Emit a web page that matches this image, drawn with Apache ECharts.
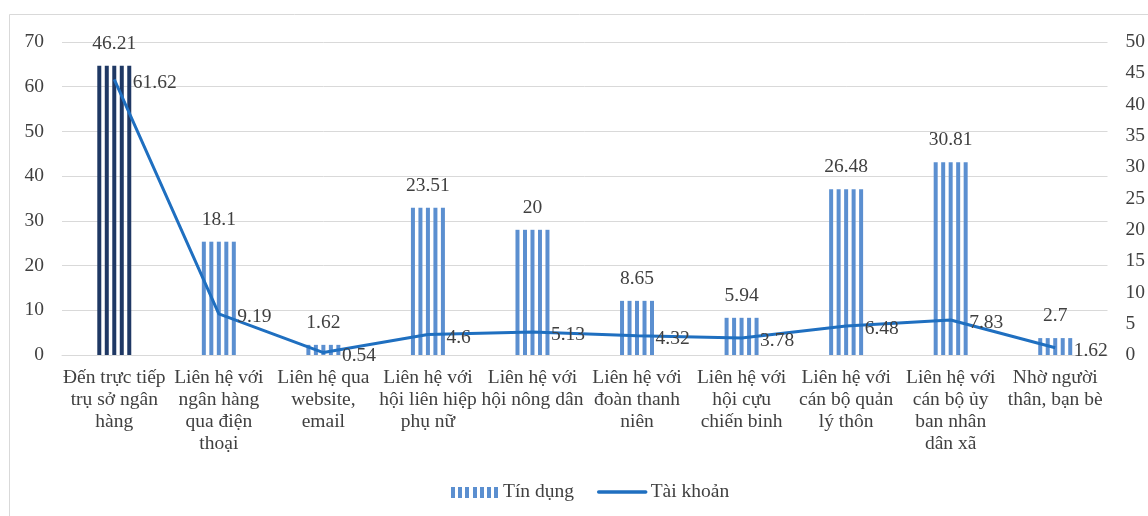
<!DOCTYPE html>
<html>
<head>
<meta charset="utf-8">
<script src="https://cdn.jsdelivr.net/npm/echarts@6/dist/echarts.min.js"></script>
<style>
  html, body { margin: 0; padding: 0; background: #fff; }
  #chart { width: 1148px; height: 516px; }
</style>
</head>
<body>
<div id="chart"></div>
<script>
// Channels used to reach the bank (tick labels on the category axis)
const categories = [
  'Đến trực tiếp\ntrụ sở ngân\nhàng',
  'Liên hệ với\nngân hàng\nqua điện\nthoại',
  'Liên hệ qua\nwebsite,\nemail',
  'Liên hệ với\nhội liên hiệp\nphụ nữ',
  'Liên hệ với\nhội nông dân',
  'Liên hệ với\nđoàn thanh\nniên',
  'Liên hệ với\nhội cựu\nchiến binh',
  'Liên hệ với\ncán bộ quản\nlý thôn',
  'Liên hệ với\ncán bộ ủy\nban nhân\ndân xã',
  'Nhờ người\nthân, bạn bè'
];

// Series values
const tinDung  = [46.21, 18.1, 1.62, 23.51, 20, 8.65, 5.94, 26.48, 30.81, 2.7];
const taiKhoan = [61.62, 9.19, 0.54, 4.6, 5.13, 4.32, 3.78, 6.48, 7.83, 1.62];

// Axis tick values
const leftTicks  = [0, 10, 20, 30, 40, 50, 60, 70];
const rightTicks = [0, 5, 10, 15, 20, 25, 30, 35, 40, 45, 50];

const FONT = '"Liberation Serif", "Times New Roman", serif';
const FS = 19.5;
const TEXT = '#404040';
const GRID = '#d9d9d9';
const BAR_LIGHT = '#5b8fd0';
const BAR_DARK = '#1f3864';
const LINE = '#1f6fc0';

// Striped swatch for the legend entry of the credit series
function stripeIcon() {
  const c = document.createElement('canvas');
  c.width = 47; c.height = 11;
  const g = c.getContext('2d');
  g.fillStyle = BAR_LIGHT;
  for (let k = 0; k < 7; k++) g.fillRect(Math.round(k * 7.2), 0, 4, 11);
  return 'image://' + c.toDataURL();
}

// Each credit bar is drawn as a set of vertical stripes
function renderStripes(params, api) {
  const idx = api.value(0);
  const val = api.value(1);
  const top = api.coord([idx, val]);
  const base = api.coord([idx, 0]);
  const band = api.size([1, 0])[0];
  const bw = band * 0.325;
  const n = 5, sw = 4;
  const gap = (bw - n * sw) / (n - 1);
  const left = top[0] - bw / 2;
  const fill = idx === 0 ? BAR_DARK : BAR_LIGHT;
  const children = [];
  for (let k = 0; k < n; k++) {
    children.push({
      type: 'rect',
      shape: { x: left + k * (sw + gap), y: top[1], width: sw, height: base[1] - top[1] },
      style: { fill: fill }
    });
  }
  children.push({
    type: 'text',
    style: {
      text: String(val), x: top[0], y: top[1] - 22,
      align: 'center', verticalAlign: 'middle',
      font: FS + 'px ' + FONT, fill: TEXT
    }
  });
  return { type: 'group', children: children };
}

const chart = echarts.init(document.getElementById('chart'));
chart.setOption({
  animation: false,
  backgroundColor: '#fff',
  graphic: [{
    type: 'rect', silent: true,
    shape: { x: 9.5, y: 14.5, width: 1200, height: 600 },
    style: { fill: 'none', stroke: GRID, lineWidth: 1 }
  }],
  grid: { left: 62, right: 39, top: 42, bottom: 161, containLabel: false },
  legend: {
    left: 451, top: 482, padding: 0,
    itemWidth: 47, itemHeight: 11, itemGap: 23,
    textStyle: { fontFamily: FONT, fontSize: FS, color: TEXT },
    data: [
      { name: 'Tín dụng', icon: stripeIcon() },
      {
        name: 'Tài khoản',
        itemStyle: { color: 'rgba(0,0,0,0)', borderWidth: 0 },
        lineStyle: { color: LINE, width: 3.5, cap: 'round' }
      }
    ]
  },
  xAxis: {
    type: 'category',
    data: categories,
    axisTick: { show: false },
    axisLine: { lineStyle: { color: GRID, width: 1 } },
    axisLabel: {
      interval: 0, hideOverlap: false, margin: 12,
      fontFamily: FONT, fontSize: FS, color: TEXT, lineHeight: 22
    }
  },
  yAxis: [
    {
      type: 'value',
      min: leftTicks[0], max: leftTicks[leftTicks.length - 1],
      interval: leftTicks[1] - leftTicks[0],
      axisLine: { show: false }, axisTick: { show: false },
      splitLine: { lineStyle: { color: GRID, width: 1 } },
      axisLabel: { margin: 18, fontFamily: FONT, fontSize: FS, color: TEXT }
    },
    {
      type: 'value',
      min: rightTicks[0], max: rightTicks[rightTicks.length - 1],
      interval: rightTicks[1] - rightTicks[0],
      axisLine: { show: false }, axisTick: { show: false },
      splitLine: { show: false },
      axisLabel: { margin: 18, fontFamily: FONT, fontSize: FS, color: TEXT }
    }
  ],
  series: [
    {
      name: 'Tín dụng',
      type: 'custom',
      yAxisIndex: 1,
      z: 2,
      itemStyle: { color: BAR_LIGHT },
      renderItem: renderStripes,
      encode: { x: 0, y: 1 },
      data: tinDung.map((v, i) => [i, v])
    },
    {
      name: 'Tài khoản',
      type: 'line',
      yAxisIndex: 0,
      z: 3,
      symbol: 'circle',
      symbolSize: 1,
      showSymbol: true,
      itemStyle: { color: 'rgba(0,0,0,0)', borderWidth: 0 },
      lineStyle: { color: LINE, width: 3 },
      label: {
        show: true, position: 'right', distance: 18, offset: [0, 3],
        fontFamily: FONT, fontSize: FS, color: TEXT
      },
      emphasis: { disabled: true },
      data: taiKhoan
    }
  ]
});
</script>
</body>
</html>
